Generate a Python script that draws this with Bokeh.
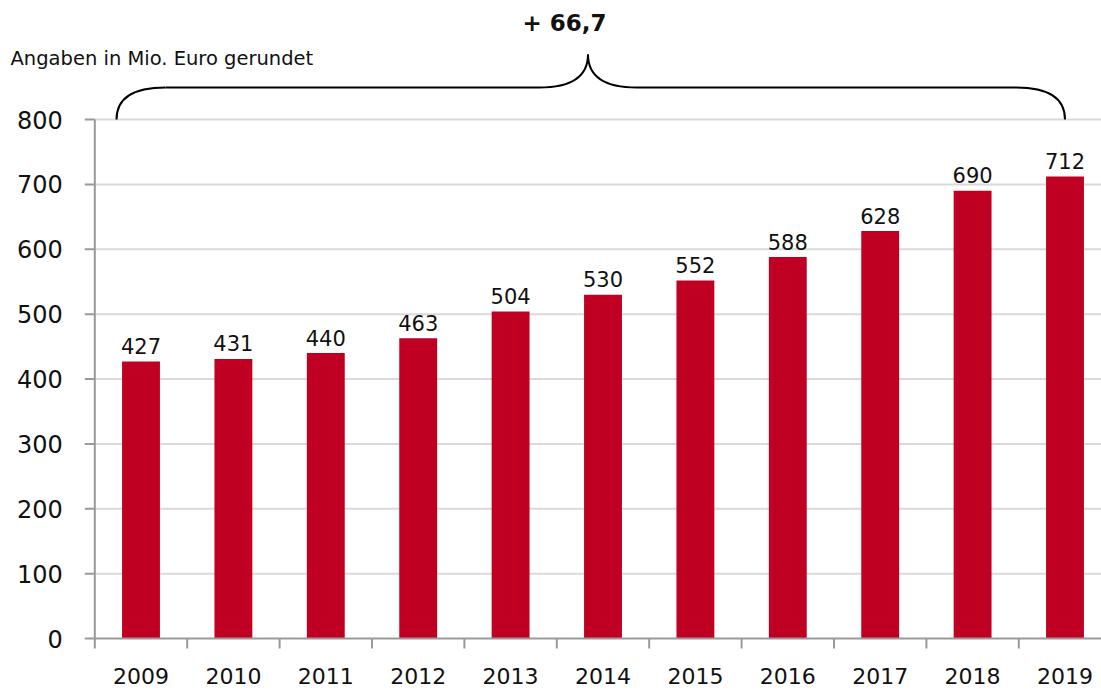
from bokeh.plotting import figure
from bokeh.models import ColumnDataSource, Range1d
from bokeh.core.properties import value
from bokeh.embed import file_html
from bokeh.resources import INLINE

years = ["2009", "2010", "2011", "2012", "2013", "2014", "2015", "2016", "2017", "2018", "2019"]
amounts = [427, 431, 440, 463, 504, 530, 552, 588, 628, 690, 712]
y_ticks = [0, 100, 200, 300, 400, 500, 600, 700, 800]
unit_note = "Angaben in Mio. Euro gerundet"

FONT = "DejaVu Sans"
BAR = "#C00022"
AXIS = "#999999"
GRID = "#d9d9d9"
TXT = "#111111"

W, H = 1101, 690
PX_X = 92.4          # pixels per category
PX_Y = 519 / 800     # pixels per value unit
X0_PX = 140.5        # pixel of first category centre
Y0_PX = 638          # pixel of value 0


def px_to_x(px):
    return (px - X0_PX) / PX_X


def px_to_y(py):
    return (Y0_PX - py) / PX_Y


idx = list(range(len(years)))
xstart, xend = px_to_x(0), px_to_x(W)
ystart, yend = px_to_y(H), px_to_y(0)
ax_x = idx[0] - 0.5
ymax = y_ticks[-1]

p = figure(width=W, height=H, output_backend="svg", toolbar_location=None,
           x_range=Range1d(xstart, xend), y_range=Range1d(ystart, yend),
           x_axis_type=None, y_axis_type=None,
           min_border_left=0, min_border_right=0, min_border_top=0, min_border_bottom=0)
p.outline_line_color = None
p.background_fill_color = "white"
p.border_fill_color = "white"
p.xgrid.grid_line_color = None
p.ygrid.grid_line_color = None

# horizontal grid lines starting at the value axis
grid_vals = y_ticks[1:]
p.segment(x0=[ax_x] * len(grid_vals), y0=grid_vals, x1=[xend] * len(grid_vals), y1=grid_vals,
          line_color=GRID, line_width=2)

# bars and their values
src = ColumnDataSource(dict(x=idx, y=amounts, ly=[v + 15.5 / PX_Y for v in amounts],
                            lab=[str(v) for v in amounts]))
p.vbar(x="x", top="y", width=0.41, source=src, fill_color=BAR, line_color=None)
p.text(x="x", y="ly", text="lab", source=src, text_align="center", text_baseline="middle",
       text_font=value(FONT), text_font_size="21px", text_color=TXT)

# value axis
tick_len_x = 10 / PX_X
p.segment(x0=[ax_x], y0=[0], x1=[ax_x], y1=[ymax], line_color=AXIS, line_width=2)
p.segment(x0=[ax_x - tick_len_x] * len(y_ticks), y0=y_ticks, x1=[ax_x] * len(y_ticks), y1=y_ticks,
          line_color=AXIS, line_width=2)
p.text(x=[ax_x - 32 / PX_X] * len(y_ticks), y=y_ticks, text=[str(t) for t in y_ticks],
       text_align="right", text_baseline="middle", text_font=value(FONT),
       text_font_size="24px", text_color=TXT)

# category axis
tick_len_y = 10 / PX_Y
bounds_x = [i - 0.5 for i in idx]
p.segment(x0=[ax_x], y0=[0], x1=[xend], y1=[0], line_color=AXIS, line_width=2)
p.segment(x0=bounds_x, y0=[0] * len(bounds_x), x1=bounds_x, y1=[-tick_len_y] * len(bounds_x),
          line_color=AXIS, line_width=2)
p.text(x=idx, y=[-37 / PX_Y] * len(idx), text=years, text_align="center", text_baseline="middle",
       text_font=value(FONT), text_font_size="22px", text_color=TXT)

# brace spanning the whole period
x0 = idx[0] - 0.265
x1 = idx[-1]
yline = ymax + 32 / PX_Y
ytop = ymax + 65 / PX_Y
xm = (x0 + x1) / 2 - 0.03
r = 0.53
p.quadratic(x0=[x0, xm - r, xm, x1 - r], y0=[ymax, yline, ytop, yline],
            x1=[x0 + r, xm, xm + r, x1], y1=[yline, ytop, yline, ymax],
            cx=[x0, xm, xm, x1], cy=[yline] * 4, line_color="black", line_width=2)
p.segment(x0=[x0 + r, xm + r], y0=[yline, yline], x1=[xm - r, x1 - r], y1=[yline, yline],
          line_color="black", line_width=2)

change = (amounts[-1] - amounts[0]) / amounts[0] * 100
change_txt = "+ " + f"{change:.1f}".replace(".", ",")
p.text(x=[px_to_x(564)], y=[px_to_y(22.5)], text=[change_txt], text_align="center",
       text_baseline="middle", text_font=value(FONT), text_font_size="23px",
       text_font_style="bold", text_color=TXT)
p.text(x=[px_to_x(10)], y=[px_to_y(57.5)], text=[unit_note], text_align="left",
       text_baseline="middle", text_font=value(FONT), text_font_size="19.5px", text_color=TXT)

open("out.html", "w").write(file_html(p, INLINE))
